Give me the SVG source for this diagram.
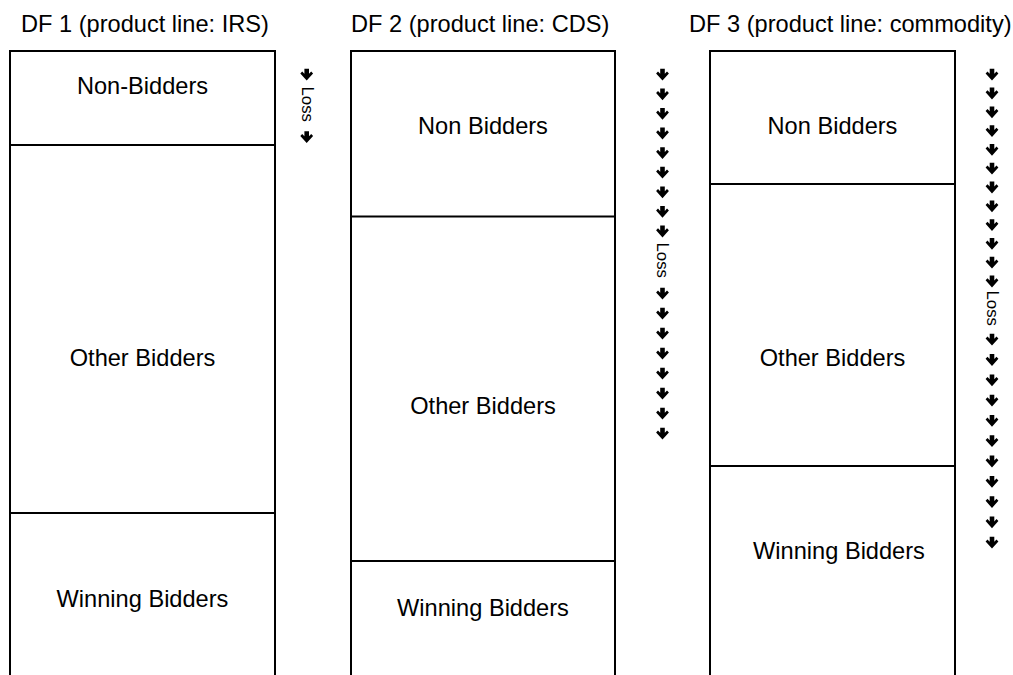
<svg xmlns="http://www.w3.org/2000/svg" xmlns:xlink="http://www.w3.org/1999/xlink" width="1013" height="675" viewBox="0 0 1013 675">
<style>
.frame{fill:none;stroke:#000;stroke-width:2}
.div{stroke:#000;stroke-width:2}
.t{font-family:"Liberation Sans",Arial,sans-serif;font-size:23.6px;fill:#000}
.lbl{font-family:"Liberation Sans",Arial,sans-serif;font-size:23.6px;fill:#000;text-anchor:middle}
.loss{font-family:"Liberation Sans",Arial,sans-serif;font-size:16.8px;fill:#000}
</style>
<defs>
<path id="ar" d="M-2.3,-6.2 H2.3 V-1.3 L4.5,-3.6 L6.4,-1.6 L0,5.6 L-6.4,-1.6 L-4.5,-3.6 L-2.3,-1.3 Z" fill="#000"/>
</defs>
<rect width="1013" height="675" fill="#fff"/>
<g id="df1">
<text class="t" x="21" y="32">DF 1 (product line: IRS)</text>
<path class="frame" d="M10,676 V51 H275 V676"/>
<line class="div" x1="10" y1="145" x2="275" y2="145"/>
<line class="div" x1="10" y1="513" x2="275" y2="513"/>
<text class="lbl" x="142.5" y="94">Non-Bidders</text>
<text class="lbl" x="142.5" y="366">Other Bidders</text>
<text class="lbl" x="142.5" y="607">Winning Bidders</text>
</g>
<g id="df2">
<text class="t" x="351" y="32">DF 2 (product line: CDS)</text>
<path class="frame" d="M351,676 V51 H615 V676"/>
<line class="div" x1="351" y1="216.5" x2="615" y2="216.5"/>
<line class="div" x1="351" y1="561" x2="615" y2="561"/>
<text class="lbl" x="483" y="134">Non Bidders</text>
<text class="lbl" x="483" y="414">Other Bidders</text>
<text class="lbl" x="483" y="616">Winning Bidders</text>
</g>
<g id="df3">
<text class="t" x="689" y="32">DF 3 (product line: commodity)</text>
<path class="frame" d="M710,676 V51 H955 V676"/>
<line class="div" x1="710" y1="184" x2="955" y2="184"/>
<line class="div" x1="710" y1="466" x2="955" y2="466"/>
<text class="lbl" x="832.5" y="134">Non Bidders</text>
<text class="lbl" x="832.5" y="366">Other Bidders</text>
<text class="lbl" x="839" y="559">Winning Bidders</text>
</g>
<g id="connectors">
<g id="loss1">
<use xlink:href="#ar" x="306.7" y="75"/>
<text class="loss" transform="translate(301.5,86.5) rotate(90)">Loss</text>
<use xlink:href="#ar" x="306.7" y="137.5"/>
</g>
<g id="loss2">
<use xlink:href="#ar" x="662.5" y="75"/>
<use xlink:href="#ar" x="662.5" y="94.6"/>
<use xlink:href="#ar" x="662.5" y="114.2"/>
<use xlink:href="#ar" x="662.5" y="133.8"/>
<use xlink:href="#ar" x="662.5" y="153.4"/>
<use xlink:href="#ar" x="662.5" y="173"/>
<use xlink:href="#ar" x="662.5" y="192.6"/>
<use xlink:href="#ar" x="662.5" y="212.2"/>
<use xlink:href="#ar" x="662.5" y="231.8"/>
<text class="loss" transform="translate(657,242.5) rotate(90)">Loss</text>
<use xlink:href="#ar" x="662.5" y="294"/>
<use xlink:href="#ar" x="662.5" y="314"/>
<use xlink:href="#ar" x="662.5" y="334"/>
<use xlink:href="#ar" x="662.5" y="354"/>
<use xlink:href="#ar" x="662.5" y="374"/>
<use xlink:href="#ar" x="662.5" y="394"/>
<use xlink:href="#ar" x="662.5" y="414"/>
<use xlink:href="#ar" x="662.5" y="434"/>
</g>
<g id="loss3">
<use xlink:href="#ar" x="992" y="75"/>
<use xlink:href="#ar" x="992" y="93.8"/>
<use xlink:href="#ar" x="992" y="112.6"/>
<use xlink:href="#ar" x="992" y="131.4"/>
<use xlink:href="#ar" x="992" y="150.2"/>
<use xlink:href="#ar" x="992" y="169"/>
<use xlink:href="#ar" x="992" y="187.8"/>
<use xlink:href="#ar" x="992" y="206.6"/>
<use xlink:href="#ar" x="992" y="225.4"/>
<use xlink:href="#ar" x="992" y="244.2"/>
<use xlink:href="#ar" x="992" y="263"/>
<use xlink:href="#ar" x="992" y="281.8"/>
<text class="loss" transform="translate(986.5,290.5) rotate(90)">Loss</text>
<use xlink:href="#ar" x="992" y="340"/>
<use xlink:href="#ar" x="992" y="360.3"/>
<use xlink:href="#ar" x="992" y="380.6"/>
<use xlink:href="#ar" x="992" y="400.9"/>
<use xlink:href="#ar" x="992" y="421.2"/>
<use xlink:href="#ar" x="992" y="441.5"/>
<use xlink:href="#ar" x="992" y="461.8"/>
<use xlink:href="#ar" x="992" y="482.1"/>
<use xlink:href="#ar" x="992" y="502.4"/>
<use xlink:href="#ar" x="992" y="522.7"/>
<use xlink:href="#ar" x="992" y="543"/>
</g>
</g>
</svg>
